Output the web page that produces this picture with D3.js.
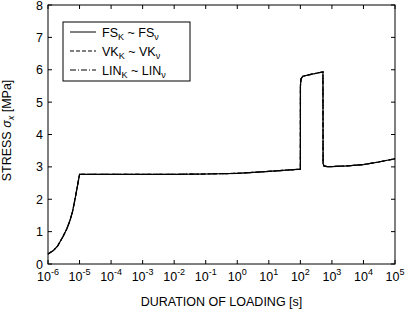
<!DOCTYPE html>
<html>
<head>
<meta charset="utf-8">
<script src="https://cdn.jsdelivr.net/npm/d3@7"></script>
<style>
  body { margin: 0; background: #fff; }
  text { font-family: "Liberation Sans", Arial, sans-serif; fill: #000; }
</style>
</head>
<body>
<div id="chart"></div>
<script>
// duration of loading [s] and stress [MPa]
const durations = [1e-6, 1.5e-6, 2e-6, 3e-6, 4e-6, 5e-6, 6e-6, 7e-6, 8e-6, 9e-6, 1e-5,
  1e-4, 1e-3, 1e-2, 1e-1, 1, 10, 100, 100.5, 105, 120, 200, 350, 520,
  525, 560, 700, 1e3, 3e3, 1e4, 3e4, 1e5];
const stressFS = [0.31, 0.42, 0.55, 0.85, 1.1, 1.35, 1.62, 1.95, 2.25, 2.52, 2.77,
  2.77, 2.77, 2.77, 2.78, 2.80, 2.86, 2.93, 5.5, 5.72, 5.8, 5.85, 5.9, 5.93,
  3.1, 3.03, 3.01, 3.01, 3.03, 3.07, 3.15, 3.25];
const stressVK = stressFS.slice();
const stressLIN = stressFS.slice();

const seriesNames = [["FS", "FS"], ["VK", "VK"], ["LIN", "LIN"]];
const seriesValues = [stressFS, stressVK, stressLIN];
const dashes = [null, "4,2", "6,2,1,2"];

const xTicks = d3.range(-6, 6).map(e => Math.pow(10, e));
const yTicks = d3.range(0, 9);

window.addEventListener("load", () => {
  const margin = {top: 5, right: 10, bottom: 47, left: 48};
  const W = 405, H = 311;
  const width = W - margin.left - margin.right;
  const height = H - margin.top - margin.bottom;

  const svg = d3.select("#chart").append("svg")
    .attr("width", W).attr("height", H);
  const g = svg.append("g")
    .attr("transform", `translate(${margin.left},${margin.top})`);

  const x = d3.scaleLog().domain([1e-6, 1e5]).range([0, width]);
  const y = d3.scaleLinear().domain([0, 8]).range([height, 0]);

  // frame
  g.append("rect")
    .attr("width", width).attr("height", height)
    .attr("fill", "none").attr("stroke", "#000").attr("stroke-width", 1);

  const tl = 4;
  // x ticks bottom and top
  g.selectAll(".xt").data(xTicks).enter().append("line")
    .attr("x1", d => x(d)).attr("x2", d => x(d))
    .attr("y1", height).attr("y2", height - tl)
    .attr("stroke", "#000");
  g.selectAll(".xtt").data(xTicks).enter().append("line")
    .attr("x1", d => x(d)).attr("x2", d => x(d))
    .attr("y1", 0).attr("y2", tl)
    .attr("stroke", "#000");
  // y ticks left and right
  g.selectAll(".yt").data(yTicks).enter().append("line")
    .attr("x1", 0).attr("x2", tl)
    .attr("y1", d => y(d)).attr("y2", d => y(d))
    .attr("stroke", "#000");
  g.selectAll(".ytr").data(yTicks).enter().append("line")
    .attr("x1", width).attr("x2", width - tl)
    .attr("y1", d => y(d)).attr("y2", d => y(d))
    .attr("stroke", "#000");

  // x tick labels: 10^n
  const xl = g.selectAll(".xl").data(xTicks).enter().append("text")
    .attr("x", d => x(d))
    .attr("y", height + 17)
    .attr("text-anchor", "middle")
    .style("font-size", "12.5px");
  xl.append("tspan").text("10");
  xl.append("tspan")
    .attr("dy", -6)
    .style("font-size", "9px")
    .text(d => String(Math.round(Math.log10(d))).replace("-", "-"));

  // y tick labels
  g.selectAll(".yl").data(yTicks).enter().append("text")
    .attr("x", -5)
    .attr("y", d => y(d) + 4.5)
    .attr("text-anchor", "end")
    .style("font-size", "12.5px")
    .text(d => d);

  // axis titles
  g.append("text")
    .attr("x", width / 2)
    .attr("y", height + 42)
    .attr("text-anchor", "middle")
    .style("font-size", "12.5px")
    .text("DURATION OF LOADING [s]");

  const yt = svg.append("text")
    .attr("transform", `translate(11,${margin.top + height / 2 - 4}) rotate(-90)`)
    .attr("text-anchor", "middle")
    .style("font-size", "12.5px");
  yt.append("tspan").text("STRESS ");
  yt.append("tspan").style("font-style", "italic").text("σ");
  yt.append("tspan").attr("dy", 3).style("font-size", "9px").style("font-style", "italic").text("x");
  yt.append("tspan").attr("dy", -3).text(" [MPa]");

  // lines
  const line = d3.line()
    .x(d => x(d[0]))
    .y(d => y(d[1]));

  seriesValues.forEach((vals, i) => {
    g.append("path")
      .datum(durations.map((t, j) => [t, vals[j]]))
      .attr("fill", "none")
      .attr("stroke", "#000")
      .attr("stroke-width", 1.2)
      .attr("stroke-dasharray", dashes[i])
      .attr("d", line);
  });

  // legend
  const lg = g.append("g").attr("transform", "translate(15,17)");
  lg.append("rect")
    .attr("width", 127).attr("height", 59)
    .attr("fill", "#fff").attr("stroke", "#000");
  seriesNames.forEach((n, i) => {
    const yy = 10 + i * 19;
    lg.append("line")
      .attr("x1", 7).attr("x2", 33)
      .attr("y1", yy).attr("y2", yy)
      .attr("stroke", "#000").attr("stroke-width", 1)
      .attr("stroke-dasharray", dashes[i]);
    const t = lg.append("text")
      .attr("x", 39).attr("y", yy + 4.5)
      .style("font-size", "12.5px");
    t.append("tspan").text(n[0]);
    t.append("tspan").attr("dy", 3).style("font-size", "9px").text("K");
    t.append("tspan").attr("dy", -3).text(" ~ " + n[1]);
    t.append("tspan").attr("dy", 3).style("font-size", "9px").text("ν");
  });
});
</script>
</body>
</html>
